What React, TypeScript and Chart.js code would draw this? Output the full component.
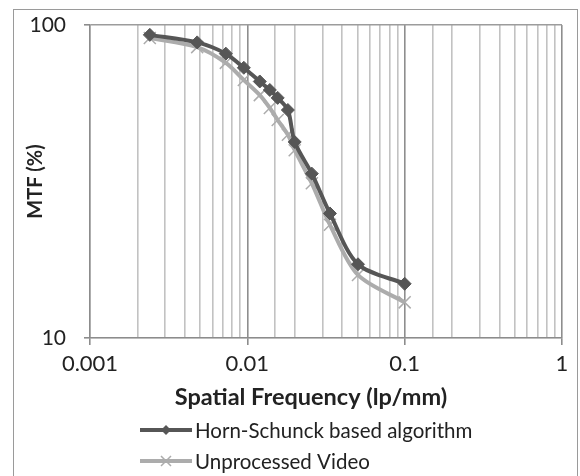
import React, { useEffect, useRef } from 'react';
import { Chart, registerables } from 'chart.js';

Chart.register(...registerables);

// Spatial frequency (lp/mm)
const frequency = [0.0024, 0.0048, 0.0073, 0.0095, 0.012, 0.0139, 0.0156, 0.0181, 0.02, 0.0257, 0.0335, 0.0505, 0.1];
// MTF (%) values
const hornSchunck = [93, 88, 81, 73, 66, 62, 58.5, 53.5, 42.3, 33.5, 25, 17.2, 14.9];
const unprocessed = [90.9, 85, 75.7, 66.7, 59.7, 54.3, 49.7, 44.6, 39.8, 31.2, 23, 15.9, 13.0];

const seriesNames = ['Horn-Schunck based algorithm', 'Unprocessed Video'];
const xTickValues = [0.001, 0.01, 0.1, 1];
const yTickValues = [10, 100];
const xTitle = 'Spatial Frequency (lp/mm)';
const yTitle = 'MTF (%)';

const FONT = 'Lato, "Liberation Sans", sans-serif';
const DARK = '#565656';
const LIGHT = '#acacac';

const isMajor = (v: number) => {
  const l = Math.log10(v);
  return Math.abs(l - Math.round(l)) < 1e-6;
};
const inList = (v: number, list: number[]) => list.some((t) => Math.abs(t - v) / t < 1e-6);

const frameAndLegend = {
  id: 'frameAndLegend',
  afterDraw(chart: any) {
    const ctx = chart.ctx as CanvasRenderingContext2D;
    ctx.save();
    // outer frame
    ctx.strokeStyle = '#9a9a9a';
    ctx.lineWidth = 1;
    ctx.strokeRect(13.5, 9.5, 564, 480);

    // x axis title
    ctx.fillStyle = '#222';
    ctx.font = 'bold 23.5px ' + FONT;
    ctx.textAlign = 'center';
    ctx.textBaseline = 'middle';
    ctx.fillText(xTitle, 311, 397);

    // legend
    const ds = chart.data.datasets;
    const rows = [430, 461];
    const x0 = 140;
    const x1 = 192;
    ds.forEach((d: any, i: number) => {
      const y = rows[i];
      ctx.strokeStyle = d.borderColor;
      ctx.lineWidth = d.borderWidth;
      ctx.beginPath();
      ctx.moveTo(x0, y);
      ctx.lineTo(x1, y);
      ctx.stroke();
      const cx = (x0 + x1) / 2;
      if (d.pointStyle === 'rectRot') {
        const r = 5;
        ctx.fillStyle = d.pointBackgroundColor;
        ctx.beginPath();
        ctx.moveTo(cx - r, y);
        ctx.lineTo(cx, y - r);
        ctx.lineTo(cx + r, y);
        ctx.lineTo(cx, y + r);
        ctx.closePath();
        ctx.fill();
      } else {
        const r = 5;
        ctx.strokeStyle = d.pointBorderColor;
        ctx.lineWidth = 1.5;
        ctx.beginPath();
        ctx.moveTo(cx - r, y - r);
        ctx.lineTo(cx + r, y + r);
        ctx.moveTo(cx - r, y + r);
        ctx.lineTo(cx + r, y - r);
        ctx.stroke();
      }
      ctx.fillStyle = '#222';
      ctx.font = '20.5px ' + FONT;
      ctx.textAlign = 'left';
      ctx.textBaseline = 'middle';
      ctx.fillText(d.label, x1 + 3, y + 1);
    });
    ctx.restore();
  },
};

export default function App() {
  const ref = useRef<HTMLCanvasElement>(null);
  useEffect(() => {
    if (!ref.current) return;
    const chart = new Chart(ref.current, {
      type: 'line',
      data: {
        datasets: [
          {
            label: seriesNames[0],
            data: frequency.map((f, i) => ({ x: f, y: hornSchunck[i] })),
            borderColor: DARK,
            backgroundColor: DARK,
            pointBackgroundColor: DARK,
            pointBorderColor: DARK,
            borderWidth: 4,
            pointStyle: 'rectRot',
            pointRadius: 6.5,
            pointBorderWidth: 1,
            tension: 0.3,
          },
          {
            label: seriesNames[1],
            data: frequency.map((f, i) => ({ x: f, y: unprocessed[i] })),
            borderColor: LIGHT,
            backgroundColor: LIGHT,
            pointBackgroundColor: LIGHT,
            pointBorderColor: LIGHT,
            borderWidth: 4,
            pointStyle: 'crossRot',
            pointRadius: 8.5,
            pointBorderWidth: 1.5,
            tension: 0.3,
          },
        ],
      },
      options: {
        animation: false,
        responsive: false,
        maintainAspectRatio: false,
        layout: { padding: { top: 25, right: 18, bottom: 63, left: 0 } },
        plugins: { legend: { display: false }, tooltip: { enabled: false } },
        scales: {
          x: {
            type: 'logarithmic',
            min: 0.001,
            max: 1,
            border: { display: true, color: '#8c8c8c', width: 1.3 },
            grid: {
              color: (c: any) => (isMajor(c.tick.value) ? '#8e8e8e' : '#c2c2c2'),
              lineWidth: 1.6,
              tickColor: (c: any) => (isMajor(c.tick.value) ? '#8c8c8c' : 'rgba(0,0,0,0)'),
              tickLength: 7,
              drawTicks: true,
            },
            ticks: {
              autoSkip: false,
              maxRotation: 0,
              padding: 6,
              color: '#222',
              font: { family: FONT, size: 22 },
              callback: (v: any) => (inList(Number(v), xTickValues) ? String(Number(v)) : ''),
            },
            afterFit: (s: any) => {
              s.height = 75;
              s.paddingLeft = 0;
              s.paddingRight = 0;
            },
          },
          y: {
            type: 'logarithmic',
            min: 10,
            max: 100,
            border: { display: true, color: '#8c8c8c', width: 1.3 },
            grid: {
              color: (c: any) => (isMajor(c.tick.value) ? '#9c9c9c' : 'rgba(0,0,0,0)'),
              lineWidth: 1.6,
              tickColor: (c: any) => (isMajor(c.tick.value) ? '#8c8c8c' : 'rgba(0,0,0,0)'),
              tickLength: 6,
            },
            ticks: {
              autoSkip: false,
              padding: 18,
              color: '#222',
              font: { family: FONT, size: 21 },
              callback: (v: any) => (inList(Number(v), yTickValues) ? String(Number(v)) : ''),
            },
            title: {
              display: true,
              text: yTitle,
              color: '#222',
              font: { family: FONT, size: 20, weight: 'bold' },
              padding: { top: 24, bottom: 0 },
            },
            afterFit: (s: any) => {
              s.width = 90;
              s.paddingTop = 0;
              s.paddingBottom = 0;
            },
          },
        },
      },
      plugins: [frameAndLegend],
    } as any);
    return () => chart.destroy();
  }, []);
  return (
    <div style={{ position: 'fixed', left: 0, top: 0, width: 580, height: 476, background: '#fff' }}>
      <canvas ref={ref} width={580} height={476} style={{ display: 'block', width: 580, height: 476 }} />
    </div>
  );
}
